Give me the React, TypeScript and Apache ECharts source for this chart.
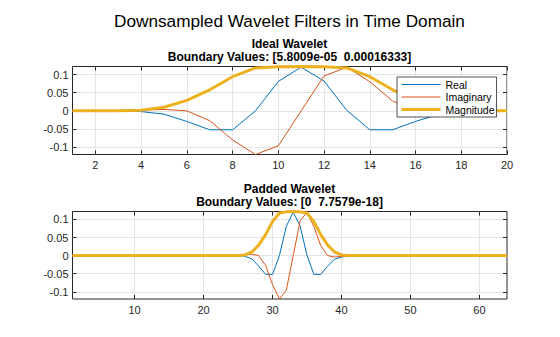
import React, { useEffect, useRef } from "react";
import * as echarts from "echarts";

const xTop = [1, 2, 3, 4, 5, 6, 7, 8, 9, 10, 11, 12, 13, 14, 15, 16, 17, 18, 19, 20];
const realTop = [0, 0, 0, -0.002, -0.009, -0.029, -0.052, -0.052, 0, 0.081, 0.12, 0.082, 0.001, -0.052, -0.052, -0.029, -0.01, -0.004, 0, 0];
const imagTop = [0, 0, 0, 0.002, 0.004, 0, -0.027, -0.08, -0.12, -0.096, 0, 0.096, 0.12, 0.08, 0.027, 0, -0.004, -0.002, 0, 0];
const magTop = [0, 0, 0.0005, 0.002, 0.01, 0.029, 0.058, 0.094, 0.118, 0.121, 0.122, 0.121, 0.118, 0.094, 0.058, 0.029, 0.01, 0.002, 0.0005, 0];

const xBottom = [1, 2, 3, 4, 5, 6, 7, 8, 9, 10, 11, 12, 13, 14, 15, 16, 17, 18, 19, 20, 21, 22, 23, 24, 25, 26, 27, 28, 29, 30, 31, 32, 33, 34, 35, 36, 37, 38, 39, 40, 41, 42, 43, 44, 45, 46, 47, 48, 49, 50, 51, 52, 53, 54, 55, 56, 57, 58, 59, 60, 61, 62, 63, 64];
const realBottom = [0, 0, 0, 0, 0, 0, 0, 0, 0, 0, 0, 0, 0, 0, 0, 0, 0, 0, 0, 0, 0, 0,
  0, 0, 0, -0.002, -0.009, -0.029, -0.052, -0.052, 0, 0.081, 0.12, 0.082, 0.001, -0.052, -0.052, -0.029, -0.01, -0.004, 0, 0,
  0, 0, 0, 0, 0, 0, 0, 0, 0, 0, 0, 0, 0, 0, 0, 0, 0, 0, 0, 0, 0, 0];
const imagBottom = [0, 0, 0, 0, 0, 0, 0, 0, 0, 0, 0, 0, 0, 0, 0, 0, 0, 0, 0, 0, 0, 0,
  0, 0, 0, 0.002, 0.004, 0, -0.027, -0.08, -0.12, -0.096, 0, 0.096, 0.12, 0.08, 0.027, 0, -0.004, -0.002, 0, 0,
  0, 0, 0, 0, 0, 0, 0, 0, 0, 0, 0, 0, 0, 0, 0, 0, 0, 0, 0, 0, 0, 0];
const magBottom = [0, 0, 0, 0, 0, 0, 0, 0, 0, 0, 0, 0, 0, 0, 0, 0, 0, 0, 0, 0, 0, 0,
  0, 0, 0.0005, 0.002, 0.01, 0.029, 0.058, 0.094, 0.118, 0.121, 0.122, 0.121, 0.118, 0.094, 0.058, 0.029, 0.01, 0.002, 0.0005, 0,
  0, 0, 0, 0, 0, 0, 0, 0, 0, 0, 0, 0, 0, 0, 0, 0, 0, 0, 0, 0, 0, 0];

const xTicksTop = [2, 4, 6, 8, 10, 12, 14, 16, 18, 20];
const xTicksBottom = [10, 20, 30, 40, 50, 60];
const yTicks = [-0.1, -0.05, 0, 0.05, 0.1];
const seriesNames = ["Real", "Imaginary", "Magnitude"];

const mainTitle = "Downsampled Wavelet Filters in Time Domain";
const topTitle1 = "Ideal Wavelet";
const topTitle2 = "Boundary Values: [5.8009e-05  0.00016333]";
const bottomTitle1 = "Padded Wavelet";
const bottomTitle2 = "Boundary Values: [0  7.7579e-18]";

const FONT = "'Liberation Sans', Arial, Helvetica, sans-serif";
const AX = "#262626";
const GRID = "#e3e3e3";
const COLORS = ["#0072BD", "#D95319", "#EDB120"];
const WIDTHS = [1, 1, 3];

function pairs(xs: number[], ys: number[]) {
  return ys.map((v, i) => [xs[i], v]);
}

export default function App() {
  const ref = useRef<HTMLDivElement>(null);
  useEffect(() => {
    if (!ref.current) return;
    const chart = echarts.init(ref.current, null, { renderer: "svg" });

    const grids = [
      { left: 72.5, top: 66.5, width: 434.5, height: 88, show: true, borderColor: AX, borderWidth: 1, backgroundColor: "#fff" },
      { left: 72.5, top: 211.5, width: 434.5, height: 87.5, show: true, borderColor: AX, borderWidth: 1, backgroundColor: "#fff" },
    ];

    const xMain = (g: number, min: number, max: number, ticks: number[]) => ({
      type: "value",
      gridIndex: g,
      min,
      max,
      position: "bottom",
      axisLine: { show: false, onZero: false },
      axisTick: { show: true, inside: true, length: 4, customValues: ticks, lineStyle: { color: AX } },
      axisLabel: { customValues: ticks, fontSize: 11, color: AX, fontFamily: FONT, margin: 5 },
      splitLine: { show: true, lineStyle: { color: GRID, width: 1 } },
    });
    const xMirror = (g: number, min: number, max: number, ticks: number[]) => ({
      type: "value",
      gridIndex: g,
      min,
      max,
      position: "top",
      axisLine: { show: false, onZero: false },
      axisTick: { show: true, inside: true, length: 4, customValues: ticks, lineStyle: { color: AX } },
      axisLabel: { show: false },
      splitLine: { show: false },
    });
    const yMain = (g: number) => ({
      type: "value",
      gridIndex: g,
      min: -0.12,
      max: 0.122,
      position: "left",
      axisLine: { show: false, onZero: false },
      axisTick: { show: true, inside: true, length: 4, customValues: yTicks, lineStyle: { color: AX } },
      axisLabel: { customValues: yTicks, fontSize: 11, color: AX, fontFamily: FONT, margin: 4 },
      splitLine: { show: true, lineStyle: { color: GRID, width: 1 } },
    });
    const yMirror = (g: number) => ({
      type: "value",
      gridIndex: g,
      min: -0.12,
      max: 0.122,
      position: "right",
      axisLine: { show: false, onZero: false },
      axisTick: { show: true, inside: true, length: 4, customValues: yTicks, lineStyle: { color: AX } },
      axisLabel: { show: false },
      splitLine: { show: false },
    });

    const mk = (name: string, xi: number, yi: number, data: number[][], idx: number) => ({
      type: "line",
      name,
      xAxisIndex: xi,
      yAxisIndex: yi,
      data,
      showSymbol: false,
      symbol: "none",
      color: COLORS[idx],
      lineStyle: { color: COLORS[idx], width: WIDTHS[idx] },
      z: 2 + idx,
    });

    const titleText = (text: string, y: number, size: number, weight: string) => ({
      type: "text",
      x: 289.5,
      y,
      z: 100,
      style: {
        text,
        x: 0,
        y: 0,
        fill: "#000",
        fontSize: size,
        fontWeight: weight,
        fontFamily: FONT,
        textAlign: "center",
        textVerticalAlign: "middle",
      },
    });

    chart.setOption({
      animation: false,
      backgroundColor: "#fff",
      textStyle: { fontFamily: FONT },
      grid: grids,
      xAxis: [
        xMain(0, 1, 20, xTicksTop),
        xMirror(0, 1, 20, xTicksTop),
        xMain(1, 1, 64, xTicksBottom),
        xMirror(1, 1, 64, xTicksBottom),
      ],
      yAxis: [yMain(0), yMirror(0), yMain(1), yMirror(1)],
      legend: {
        data: seriesNames.map((n, i) => ({
          name: n,
          itemStyle: { opacity: 0 },
          lineStyle: { width: WIDTHS[i], color: COLORS[i] },
        })),
        orient: "vertical",
        left: 397,
        top: 77,
        backgroundColor: "#fff",
        borderColor: AX,
        borderWidth: 0.8,
        borderRadius: 0,
        padding: [2, 2, 2, 3],
        itemWidth: 39,
        itemHeight: 10,
        itemGap: 1.5,
        itemStyle: { opacity: 0 },
        textStyle: { fontSize: 10.5, color: "#000", fontFamily: FONT },
        selectedMode: false,
        z: 50,
      },
      series: [
        mk(seriesNames[0], 0, 0, pairs(xTop, realTop), 0),
        mk(seriesNames[1], 0, 0, pairs(xTop, imagTop), 1),
        mk(seriesNames[2], 0, 0, pairs(xTop, magTop), 2),
        mk(seriesNames[0], 2, 2, pairs(xBottom, realBottom), 0),
        mk(seriesNames[1], 2, 2, pairs(xBottom, imagBottom), 1),
        mk(seriesNames[2], 2, 2, pairs(xBottom, magBottom), 2),
      ],
      graphic: [
        titleText(mainTitle, 20.5, 17.2, "normal"),
        titleText(topTitle1, 43.5, 12, "bold"),
        titleText(topTitle2, 57, 12, "bold"),
        titleText(bottomTitle1, 188.5, 12, "bold"),
        titleText(bottomTitle2, 202, 12, "bold"),
      ],
    });
    return () => chart.dispose();
  }, []);
  return <div ref={ref} style={{ position: "fixed", left: 0, top: 0, width: 560, height: 337 }} />;
}
